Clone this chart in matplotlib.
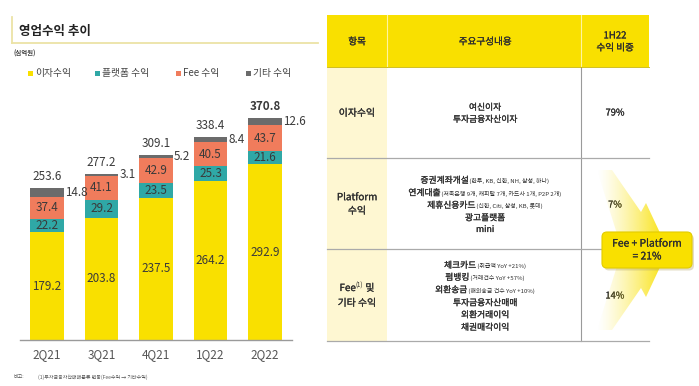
import numpy as np
import matplotlib
matplotlib.use('Agg')
import matplotlib.pyplot as plt
import matplotlib.patches as patches
import matplotlib.patheffects as pe
from matplotlib.colors import to_rgb

plt.rcParams['font.family'] = ['Noto Sans CJK KR', 'DejaVu Sans']

# --- data ---
quarters = ['2Q21', '3Q21', '4Q21', '1Q22', '2Q22']
interest = [179.2, 203.8, 237.5, 264.2, 292.9]
platform = [22.2, 29.2, 23.5, 25.3, 21.6]
fee = [37.4, 41.1, 42.9, 40.5, 43.7]
other = [14.8, 3.1, 5.2, 8.4, 12.6]
totals = [253.6, 277.2, 309.1, 338.4, 370.8]
series_names = ['이자수익', '플랫폼 수익', 'Fee 수익', '기타 수익']
colors = ['#F9E000', '#2FA8A6', '#F07C5C', '#6B6B6B']

table_header = ['항목', '주요구성내용', '1H22\n수익 비중']
row_items = ['이자수익', 'Platform\n수익', None]
row_shares = ['79%', '7%', '14%']
MAIN, SMALL = 6.3, 4.3
row1_lines = [[('여신이자', MAIN)], [('투자금융자산이자', MAIN)]]
row2_lines = [[('증권계좌개설', MAIN), (' (한투, KB, 신한, NH, 삼성, 하나)', SMALL)],
              [('연계대출', MAIN), (' (저축은행 9개, 캐피탈 7개, 카드사 1개, P2P 2개)', SMALL)],
              [('제휴신용카드', MAIN), (' (신한, Citi, 삼성, KB, 롯데)', SMALL)],
              [('광고플랫폼', MAIN)],
              [('mini', MAIN)]]
row3_lines = [[('체크카드', MAIN), (' (취급액 YoY +21%)', SMALL)],
              [('펌뱅킹', MAIN), (' (거래건수 YoY +57%)', SMALL)],
              [('외환송금', MAIN), (' (해외송금 건수 YoY +10%)', SMALL)],
              [('투자금융자산매매', MAIN)],
              [('외환거래이익', MAIN)],
              [('채권매각이익', MAIN)]]

W, H = 699, 386
TXT = '#2e2e2e'
MED = [pe.withStroke(linewidth=0.16, foreground=TXT)]  # a touch heavier than regular
fig = plt.figure(figsize=(W / 100, H / 100), dpi=100)

bg = fig.add_axes([0, 0, 1, 1])
bg.axis('off')
bg.set_xlim(0, W)
bg.set_ylim(H, 0)
bg.set_autoscale_on(False)


def px_rect(x0, y0, x1, y1):
    return [x0 / W, 1 - y1 / H, (x1 - x0) / W, (y1 - y0) / H]


# --- bar chart ---
ax = fig.add_axes(px_rect(20, 100, 292, 340))
ax.patch.set_alpha(0)
x = np.arange(len(quarters))
bottom = np.zeros(len(x))
for i, (vals, c) in enumerate(zip([interest, platform, fee, other], colors)):
    ax.bar(x, vals, width=0.62, bottom=bottom, color=c, linewidth=0)
    for xi, b, v in zip(x, bottom, vals):
        if i < 3:
            ax.text(xi, b + v / 2, f'{v:.1f}', ha='center', va='center',
                    fontsize=8.4, color='#3a3a3a')
        else:
            ax.text(xi + 0.33, b + v / 2, f'{v:.1f}', ha='left', va='center',
                    fontsize=8.4, color='#3a3a3a')
    bottom += np.array(vals)

for xi, t in zip(x, totals):
    ax.annotate(f'{t:.1f}', (xi, t), xytext=(0, 3.5), textcoords='offset points',
                ha='center', va='bottom', fontsize=8.4, color='#3a3a3a',
                fontweight='bold' if xi == len(x) - 1 else 'normal')

ax.set_xlim(-0.495, 4.495)
ax.set_ylim(0, 400)
ax.set_xticks(x)
ax.set_xticklabels(quarters, fontsize=8.5, color='#555555')
ax.set_yticks([])
ax.tick_params(axis='x', length=0, pad=6)
for s in ['top', 'left', 'right']:
    ax.spines[s].set_visible(False)
ax.spines['bottom'].set_color('#9a9a9a')
ax.spines['bottom'].set_linewidth(1.0)

# --- title, unit, legend ---
bg.plot([12, 12], [17, 43], color='#ECE3A6', lw=1.3)
bg.plot([12, 318], [43, 43], color='#ECE3A6', lw=1.3)
bg.text(19, 31, '영업수익 추이', fontsize=9, fontweight='bold', color='#222222', va='center')
bg.text(14, 53, '(십억원)', fontsize=4.6, color='#444444', va='center', fontweight='bold')

leg_x = [28, 95, 176, 246]
for lx, name, c in zip(leg_x, series_names, colors):
    bg.add_patch(patches.Rectangle((lx, 70.5), 5, 5, color=c, lw=0))
    bg.text(lx + 7, 73, name, fontsize=7, color='#444444', va='center', ha='left')

bg.text(13, 377, '비고:', fontsize=3.6, color='#555555', va='center')
bg.text(38, 377, '(1)투자금융자산매매분류 변동(Fee수익 → 기타수익)', fontsize=3.6,
        color='#555555', va='center')

# --- table ---
tx0, tx1, tx2, tx3 = 327, 387, 581, 649
ty = [15, 67, 158, 249, 341]
bg.add_patch(patches.Rectangle((tx0, ty[0]), tx3 - tx0, ty[1] - ty[0], color='#F9E000', lw=0))
bg.add_patch(patches.Rectangle((tx0, ty[1]), tx1 - tx0, ty[4] - ty[1], color='#FEF7D2', lw=0))
for xx in [tx1, tx2]:
    bg.plot([xx, xx], [ty[0], ty[1]], color='#FFF4A0', lw=0.8)
bg.plot([tx2, tx2], [ty[1], ty[4]], color='#9a9a9a', lw=0.8)
bg.plot([tx0, tx3], [ty[1], ty[1]], color='#C8B400', lw=0.6)
for yy in ty[2:]:
    bg.plot([tx0, tx3], [yy, yy], color='#aaaaaa', lw=0.9)

col_c = [357, 485, 615]
for cx, h in zip(col_c, table_header):
    bg.text(cx, 42, h, ha='center', va='center', fontsize=6.9, color=TXT,
            linespacing=1.45, path_effects=MED)

row_c = [113, 204, 295]
for i, (item, share) in enumerate(zip(row_items, row_shares)):
    if item is not None:
        bg.text(col_c[0], row_c[i], item, ha='center', va='center', fontsize=7.1,
                color=TXT, linespacing=1.45, path_effects=MED)
    bg.text(col_c[2], row_c[i] + (1 if i else 0), share, ha='center', va='center',
            fontsize=6.7, color=TXT, path_effects=MED)

renderer = fig.canvas.get_renderer()


def mixed_line(xc, y_base, parts):
    texts = []
    for p in parts:
        s, fs = p[0], p[1]
        dy = p[2] if len(p) > 2 else 0
        t = bg.text(0, y_base + dy, s, fontsize=fs, ha='left', va='baseline', color=TXT,
                    path_effects=MED if fs >= 6 else None)
        texts.append(t)
    widths = [t.get_window_extent(renderer).width for t in texts]
    xx = xc - sum(widths) / 2
    for t, w in zip(texts, widths):
        t.set_x(xx)
        xx += w


for lines, ys in [(row1_lines, [107, 119]),
                  (row2_lines, [180, 192.5, 205, 217.5, 229]),
                  (row3_lines, [265, 277, 289.5, 302.5, 314.5, 327])]:
    for parts, yc in zip(lines, ys):
        mixed_line(col_c[1], yc + 3, parts)

# Fee(1) 및 / 기타 수익
mixed_line(col_c[0], 291, [('Fee', 7.1), ('(1)', 4.4, -3), (' 및', 7.1)])
bg.text(col_c[0], 303, '기타 수익', ha='center', va='center', fontsize=7.1, color=TXT,
        path_effects=MED)

# --- gradient arrow + callout ---
arrow_pts = [(597, 170), (612, 170), (641, 212), (646, 203), (668, 250),
             (646, 297), (641, 288), (612, 330), (597, 330), (622, 250)]
poly = patches.Polygon(arrow_pts, closed=True, facecolor='none', edgecolor='none')
bg.add_patch(poly)
grad = np.zeros((2, 256, 4))
grad[..., :3] = to_rgb('#F9E000')
grad[..., 3] = np.linspace(0, 1, 256) ** 1.3
im = bg.imshow(grad, extent=(597, 668, 330, 170), aspect='auto', zorder=3,
               interpolation='bilinear')
im.set_clip_path(poly)

shadow = patches.FancyBboxPatch((604, 234.5), 90, 36,
                                boxstyle='round,pad=0,rounding_size=5',
                                fc='#b0a060', ec='none', alpha=0.35, zorder=4)
bg.add_patch(shadow)
box = patches.FancyBboxPatch((602, 232), 90, 36, boxstyle='round,pad=0,rounding_size=5',
                             fc='#F9E000', ec='#E2CC00', lw=0.8, zorder=5)
bg.add_patch(box)
bg.text(647, 250, 'Fee + Platform\n= 21%', ha='center', va='center', fontsize=7.4,
        color=TXT, zorder=6, linespacing=1.35, path_effects=MED)

bg.set_xlim(0, W)
bg.set_ylim(H, 0)

fig.savefig('out.png', dpi=100)
